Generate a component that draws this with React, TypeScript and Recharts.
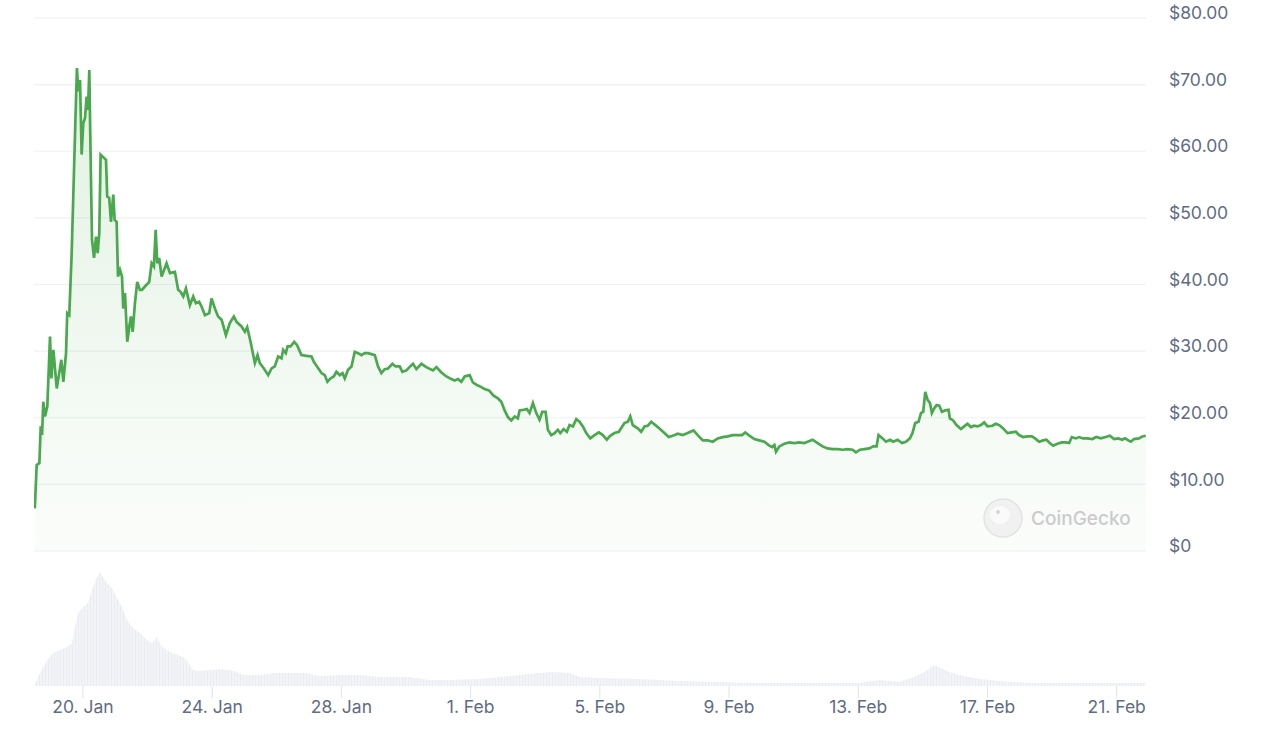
import { AreaChart, Area, XAxis, YAxis, CartesianGrid } from "recharts";

// hours counted from 18 Jan 00:00
const priceHours = [
  12.2, 13.6, 15.6, 16.6, 17.6, 18.5, 19.8, 21.5, 23.5, 24.5, 26.0, 28.5, 31.9, 33.4, 35.4, 36.3, 37.8, 39.6,
  42.1, 43.5, 44.5, 45.8, 47.0, 48.2, 49.5, 50.7, 51.7, 52.7, 53.7, 54.7, 56.2, 57.7, 58.9, 60.1, 61.1, 63.6,
  65.1, 66.0, 67.5, 68.8, 70.5, 71.5, 73.0, 74.0, 75.5, 77.0, 77.9, 79.2, 80.9, 82.4, 83.6, 84.9, 86.6, 88.3,
  90.3, 91.8, 94.0, 97.2, 99.0, 100.7, 102.0, 103.2, 104.6, 106.4, 110.1, 112.6, 116.3, 118.7, 120.5, 122.5,
  124.5, 127.4, 129.9, 131.9, 134.3, 136.1, 138.6, 141.8, 143.5, 146.0, 148.4, 151.0, 154.2, 157.1, 160.1,
  162.1, 165.8, 168.3, 170.0, 172.5, 175.7, 177.7, 179.4, 182.4, 185.6, 188.1, 190.5, 193.0, 195.5, 196.7,
  198.7, 200.0, 202.2, 204.9, 207.1, 210.3, 214.1, 217.8, 219.5, 221.9, 225.2, 227.6, 229.6, 231.9, 234.3,
  236.3, 238.8, 240.8, 242.5, 244.9, 247.5, 249.9, 252.4, 254.9, 257.3, 259.8, 264.8, 267.2, 269.7, 272.2,
  274.6, 277.9, 280.3, 283.3, 285.3, 288.3, 292.0, 293.2, 295.7, 299.4, 303.1, 308.0, 310.6, 314.3, 318.0,
  321.7, 324.1, 326.6, 329.1, 331.6, 335.3, 337.7, 340.7, 344.0, 346.4, 349.6, 353.1, 356.3, 358.8, 361.3,
  363.7, 366.2, 368.7, 371.1, 372.4, 375.4, 377.8, 379.8, 382.3, 384.8, 387.2, 389.2, 391.7, 393.4, 395.9,
  398.4, 400.8, 402.6, 405.1, 407.5, 409.5, 412.0, 414.5, 416.9, 419.4, 421.9, 424.9, 428.1, 431.3, 434.2,
  437.2, 439.7, 442.9, 446.1, 450.3, 452.8, 454.6, 456.5, 460.2, 462.7, 465.2, 467.6, 470.2, 473.3, 476.3,
  480.0, 483.2, 486.2, 489.9, 493.6, 497.3, 501.6, 504.7, 508.5, 512.2, 515.9, 519.6, 523.3, 527.0, 530.7,
  534.4, 537.7, 540.1, 543.1, 546.8, 550.5, 554.3, 557.4, 560.0, 561.7, 562.9, 565.4, 569.1, 572.8, 576.5,
  580.2, 583.9, 586.4, 590.1, 593.8, 597.5, 601.2, 605.0, 608.7, 612.4, 616.1, 619.8, 622.3, 625.3, 628.5,
  632.2, 635.2, 637.6, 639.1, 642.1, 644.6, 647.6, 650.0, 653.2, 656.5, 659.4, 662.4, 664.3, 666.3, 668.8,
  670.6, 672.3, 673.8, 675.5, 677.3, 678.7, 680.4, 682.2, 684.2, 686.2, 688.6, 691.1, 692.1, 694.5, 697.0,
  700.3, 702.7, 705.2, 707.7, 710.1, 712.6, 715.1, 717.6, 720.0, 723.7, 726.2, 728.7, 731.7, 734.9, 738.1,
  741.1, 743.5, 746.5, 749.7, 753.0, 755.4, 758.4, 761.4, 763.8, 766.3, 768.8, 772.0, 775.2, 778.2, 780.7,
  782.7, 785.6, 788.1, 791.0, 794.2, 797.9, 800.9, 804.2, 807.9, 810.9, 814.1, 817.2, 820.2, 822.2, 824.7,
  826.5, 828.9, 832.6, 835.1, 837.6,
];

const priceValues = [
  6.4, 12.9, 13.2, 18.7, 17.4, 22.4, 20.2, 21.7, 32.2, 25.9, 30.2, 24.4, 28.7, 25.4, 29.7, 35.7, 35.4, 44.7,
  62.7, 72.5, 69.0, 70.7, 59.5, 64.2, 65.0, 68.2, 66.2, 72.2, 58.7, 46.7, 44.0, 47.2, 44.7, 47.7, 59.5, 59.0,
  58.7, 53.2, 53.0, 49.4, 53.5, 49.7, 49.4, 41.2, 42.2, 41.2, 36.4, 38.7, 31.4, 33.7, 35.2, 32.9, 37.2, 40.4,
  39.2, 39.2, 39.7, 40.4, 43.2, 42.7, 48.2, 43.2, 44.0, 41.2, 43.2, 41.7, 41.9, 39.2, 38.9, 38.2,
  39.4, 36.9, 38.2, 37.2, 37.4, 36.7, 35.4, 35.7, 37.9, 36.4, 35.2, 34.7, 32.4, 34.2, 35.2,
  34.4, 33.7, 32.9, 33.6, 31.4, 28.2, 29.4, 28.2, 27.4, 26.4, 27.4, 27.7, 29.2, 28.9, 30.2,
  29.7, 30.7, 30.7, 31.4, 30.9, 29.4, 29.3, 29.2, 28.4, 27.7, 26.7, 26.4, 25.4, 25.9, 26.2,
  26.9, 26.4, 26.7, 25.9, 27.2, 27.7, 29.9, 29.7, 29.4, 29.7, 29.7, 29.4, 27.7, 26.7, 27.3,
  27.4, 28.1, 27.7, 27.7, 26.9, 27.1, 27.9, 28.1, 27.3, 28.1, 27.6, 27.1, 27.6, 26.8, 26.2,
  25.8, 25.6, 25.8, 25.4, 26.2, 26.4, 25.3, 24.9, 24.6, 24.3, 24.1, 23.3, 22.9, 22.4, 21.1,
  20.1, 19.6, 20.2, 19.9, 21.1, 21.2, 21.3, 20.7, 22.2, 20.7, 19.7, 20.9, 20.9, 18.2, 17.4,
  17.7, 18.2, 17.7, 18.3, 17.9, 18.9, 18.7, 19.8, 19.4, 18.7, 17.7, 16.9, 17.4, 17.8, 17.4,
  16.7, 17.3, 17.7, 17.9, 19.2, 19.4, 20.2, 18.9, 18.4, 17.9, 18.7, 18.8, 19.4, 18.9, 18.4,
  17.7, 17.1, 17.3, 17.6, 17.4, 17.7, 18.1, 17.4, 16.6, 16.6, 16.4, 16.9, 17.1, 17.2, 17.4,
  17.4, 17.4, 17.8, 17.3, 16.8, 16.6, 16.4, 15.9, 15.6, 15.9, 14.9, 15.7, 16.1, 16.3, 16.2,
  16.3, 16.2, 16.4, 16.7, 16.2, 15.7, 15.4, 15.3, 15.3, 15.2, 15.3, 15.2, 14.8, 15.2, 15.3,
  15.4, 15.7, 15.7, 17.4, 16.9, 16.4, 16.7, 16.4, 16.7, 16.2, 16.4, 16.9, 17.7, 19.2, 19.4,
  20.7, 20.9, 23.9, 22.7, 22.2, 20.7, 21.4, 21.9, 21.8, 20.9, 21.1, 21.2, 19.9, 19.6, 18.9,
  18.3, 18.7, 19.1, 18.6, 18.8, 18.7, 18.9, 19.3, 18.7, 18.8, 19.1, 18.9, 18.4, 17.7, 17.8,
  17.9, 17.4, 17.1, 17.2, 17.2, 16.9, 16.4, 16.6, 16.7, 16.2, 15.8, 16.1, 16.3, 16.3, 16.2,
  17.1, 16.9, 17.1, 16.9, 16.9, 16.8, 17.1, 16.9, 17.1, 17.3, 16.8, 16.9, 16.7, 16.9, 16.6,
  16.4, 16.8, 16.9, 17.2, 17.3,
];

const volumeHours = [
  11.6, 16.1, 21.3, 25.7, 30.9, 36.1, 39.8, 42.1, 44.3, 48.0, 51.7, 54.7, 58.4, 60.6, 62.9, 65.8, 69.5, 73.2,
  76.9, 80.7, 85.1, 90.3, 95.5, 99.2, 102.9, 106.6, 112.6, 118.5, 123.7, 127.4, 129.7, 134.9, 142.3, 149.7,
  160.8, 166.8, 179.4, 190.5, 201.7, 212.8, 223.9, 238.8, 253.6, 268.5, 283.3, 290.7, 305.6, 320.4, 342.7,
  357.5, 372.4, 387.2, 398.4, 409.5, 416.9, 431.8, 461.5, 491.2, 520.8, 550.5, 580.2, 602.5, 624.8, 639.6,
  654.5, 665.6, 673.0, 680.5, 685.6, 691.6, 699.0, 710.1, 721.3, 736.1, 758.4, 788.1, 817.8, 837.6,
];

// relative volume
const volumeValues = [
  0, 13, 26, 33, 36, 39, 43, 59, 73, 79, 83, 96, 109, 114, 109, 103, 98, 88,
  79, 66, 58, 53, 46, 43, 49, 39, 34, 31, 28, 21, 16, 15, 16, 17,
  15, 11, 11, 13, 13, 13, 10, 11, 11, 9, 9, 9, 6, 6, 7,
  9, 11, 13, 14, 13, 9, 8, 7, 5, 4, 3, 3, 3, 3, 6,
  4, 9, 14, 21, 18, 14, 11, 8, 6, 4, 3, 3, 3, 3,
];

const tickHours = [48, 144, 240, 336, 432, 528, 624, 720, 816];
const tickLabels = ["20. Jan", "24. Jan", "28. Jan", "1. Feb", "5. Feb", "9. Feb", "13. Feb", "17. Feb", "21. Feb"];
const priceTicks = [0, 10, 20, 30, 40, 50, 60, 70, 80];

const priceData = priceHours.map((h, i) => ({ h, price: priceValues[i] }));
const volumeData = volumeHours.map((h, i) => ({ h, volume: volumeValues[i] }));

const X_DOMAIN: [number, number] = [11.6, 837.8];
const FONT = "Inter, 'Noto Sans', sans-serif";
const LABEL = "#5f6c86";
const GREEN = "#4aa84e";

const fmtPrice = (v: number) => (v === 0 ? "$0" : `$${v.toFixed(2)}`);
const fmtDate = (h: number) => tickLabels[tickHours.indexOf(h)] ?? "";

function PriceTick({ x, y, payload }: any) {
  return (
    <text x={x} y={y - 5} dy="0.35em" textAnchor="start" fill={LABEL} fontSize={17.5} fontFamily={FONT}>
      {fmtPrice(payload.value)}
    </text>
  );
}

function Watermark() {
  return (
    <svg width={1280} height={560} style={{ position: "absolute", left: 0, top: 0, pointerEvents: "none" }}>
      <circle cx={1003} cy={518} r={19} fill="#f1f1f1" stroke="#e3e3e3" strokeWidth={1.5} />
      <ellipse cx={1000} cy={515} rx={10} ry={9} fill="#fafafa" />
      <circle cx={998} cy={512} r={2} fill="#d6d6d6" />
      <text x={1031} y={525} fontSize={19} fontFamily={FONT} fontWeight={500} fill="#cbcbcb">
        CoinGecko
      </text>
    </svg>
  );
}

export default function App() {
  return (
    <div style={{ position: "absolute", left: 0, top: 0, width: 1280, height: 731, background: "#fff" }}>
      <div style={{ position: "absolute", left: 0, top: 0 }}>
        <AreaChart width={1280} height={560} data={priceData} margin={{ top: 18, right: 0, bottom: 9, left: 34 }}>
          <defs>
            <linearGradient id="priceFill" x1="0" y1="0" x2="0" y2="1">
              <stop offset="0%" stopColor={GREEN} stopOpacity={0.26} />
              <stop offset="100%" stopColor={GREEN} stopOpacity={0.04} />
            </linearGradient>
          </defs>
          <CartesianGrid vertical={false} stroke="#eff0f4" strokeWidth={1.2} />
          <XAxis dataKey="h" type="number" domain={X_DOMAIN} allowDataOverflow hide />
          <YAxis
            orientation="right"
            width={134}
            domain={[0, 80]}
            ticks={priceTicks}
            axisLine={false}
            tickLine={false}
            tickMargin={17}
            tick={<PriceTick />}
          />
          <Area
            type="linear"
            dataKey="price"
            stroke={GREEN}
            strokeWidth={2.7}
            fill="url(#priceFill)"
            isAnimationActive={false}
            dot={false}
            activeDot={false}
          />
        </AreaChart>
        <Watermark />
      </div>
      <div style={{ position: "absolute", left: 0, top: 560 }}>
        <AreaChart width={1280} height={171} data={volumeData} margin={{ top: 10, right: 134, bottom: 5, left: 34 }}>
          <defs>
            <pattern id="volStripes" width={3} height={8} patternUnits="userSpaceOnUse">
              <rect width={3} height={8} fill="#f3f4f8" />
              <rect width={1} height={8} fill="#eaecf2" />
            </pattern>
          </defs>
          <XAxis
            dataKey="h"
            type="number"
            domain={X_DOMAIN}
            allowDataOverflow
            ticks={tickHours}
            tickFormatter={fmtDate}
            height={40}
            axisLine={false}
            tickLine={{ stroke: "#dfe2e8" }}
            tickSize={12}
            tickMargin={3}
            tick={{ fill: LABEL, fontSize: 17.5, fontFamily: FONT }}
            interval={0}
          />
          <YAxis hide domain={[0, 116]} />
          <Area
            type="linear"
            dataKey="volume"
            stroke="none"
            fill="url(#volStripes)"
            fillOpacity={1}
            isAnimationActive={false}
            dot={false}
            activeDot={false}
          />
        </AreaChart>
      </div>
    </div>
  );
}
